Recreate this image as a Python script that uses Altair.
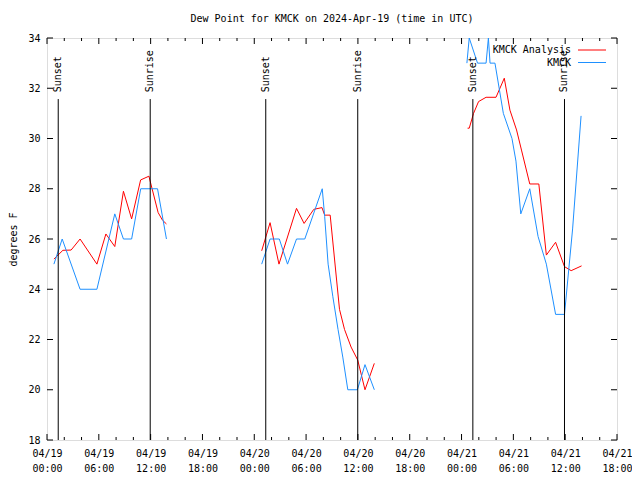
import altair as alt
import pandas as pd

TITLE = "Dew Point for KMCK on 2024-Apr-19 (time in UTC)"
SERIES = ["KMCK Analysis", "KMCK"]
COLORS = ["#ff0000", "#1e90ff"]
FONT = "DejaVu Sans Mono"

# hours since 2024-04-19 00:00 UTC
analysis_hours_1 = [0.80, 1.84, 2.79, 3.83, 5.78, 6.82, 7.85, 8.85, 9.80, 10.84, 11.80, 12.87, 13.37, 13.83]
analysis_dew_1 = [25.2, 25.55, 25.56, 26.0, 25.0, 26.2, 25.7, 27.9, 26.8, 28.35, 28.5, 27.05, 26.75, 26.6]
analysis_hours_2 = [24.86, 25.83, 26.86, 28.89, 29.77, 30.89, 31.84, 32.15, 32.79, 33.87, 34.45, 35.21, 35.98, 36.82, 37.90]
analysis_dew_2 = [25.53, 26.65, 25.0, 27.22, 26.62, 27.18, 27.25, 26.95, 26.95, 23.2, 22.4, 21.7, 21.18, 20.0, 21.05]
analysis_hours_3 = [48.70, 48.89, 49.39, 49.97, 50.84, 51.99, 52.95, 53.60, 54.37, 54.94, 55.90, 56.95, 57.82, 58.89, 59.92, 60.69, 61.90]
analysis_dew_3 = [30.41, 30.41, 31.0, 31.47, 31.64, 31.64, 32.4, 31.13, 30.34, 29.54, 28.19, 28.19, 25.36, 25.87, 24.9, 24.74, 24.93]

obs_hours_1 = [0.80, 1.76, 3.83, 5.78, 7.85, 8.85, 9.80, 10.85, 12.80, 13.83]
obs_dew_1 = [25, 26, 24, 24, 27, 26, 26, 28, 28, 26]
obs_hours_2 = [24.86, 25.83, 26.90, 27.85, 28.89, 29.85, 31.87, 32.15, 32.55, 33.10, 33.70, 34.25, 34.83, 35.94, 36.82, 37.90]
obs_dew_2 = [25, 26, 26, 25, 26, 26, 28, 26.9, 25.0, 23.7, 22.4, 21.3, 20, 20, 21, 20]
obs_hours_3 = [48.62, 48.89, 49.85, 50.84, 51.11, 51.30, 51.87, 52.84, 53.84, 54.30, 54.86, 55.90, 56.86, 57.82, 58.89, 59.92, 60.86, 61.84]
obs_dew_3 = [33, 34, 33, 33, 34, 33, 33, 31, 30, 29.1, 27, 28, 26.1, 25, 23, 23, 26.4, 30.9]

event_hours = [1.30, 11.95, 25.33, 35.98, 49.31, 59.92]
event_names = ["Sunset", "Sunrise", "Sunset", "Sunrise", "Sunset", "Sunrise"]

x_major = list(range(0, 67, 6))
x_minor = [h for h in range(0, 67, 2) if h % 6]
y_ticks = list(range(18, 35, 2))


def frame(series, segs):
    rows = []
    for i, (hs, vs) in enumerate(segs):
        for h, v in zip(hs, vs):
            rows.append({"series": series, "segment": i, "hour": h, "dew": v})
    return pd.DataFrame(rows)


ana_df = frame(SERIES[0], [(analysis_hours_1, analysis_dew_1), (analysis_hours_2, analysis_dew_2), (analysis_hours_3, analysis_dew_3)])
obs_df = frame(SERIES[1], [(obs_hours_1, obs_dew_1), (obs_hours_2, obs_dew_2), (obs_hours_3, obs_dew_3)])
ev_df = pd.DataFrame({"hour": event_hours, "name": event_names})

W, H = 570, 402
xs = alt.Scale(domain=[0, 66], nice=False, zero=False)
ys = alt.Scale(domain=[18, 34], nice=False, zero=False)

x_axis = alt.Axis(
    values=x_major, ticks=False, domain=False, grid=False, title=None,
    labelExpr="['04/' + (19 + floor(datum.value / 24)), (datum.value % 24 < 10 ? '0' : '') + (datum.value % 24) + ':00']",
    labelFont=FONT, labelFontSize=10, labelColor="black", labelPadding=8,
    labelFlush=False, labelOverlap=False, labelBaseline="top", labelLineHeight=15, tickSize=0,
)
y_axis = alt.Axis(
    values=y_ticks, ticks=False, domain=False, grid=False, title="degrees F",
    labelFont=FONT, labelFontSize=10, labelColor="black", labelPadding=7, tickSize=0,
    titleFont=FONT, titleFontSize=10, titleFontWeight="normal", titleColor="black",
    titleX=-34, titleY=201, titleAngle=270, titleAlign="center", titleBaseline="middle",
)

def line_layer(df, color):
    return alt.Chart(df).mark_line(strokeWidth=1, clip=True, color=color).encode(
        x=alt.X("hour:Q", scale=xs, axis=x_axis),
        y=alt.Y("dew:Q", scale=ys, axis=y_axis),
        detail="segment:N",
        order="hour:Q",
    )

ana_line = line_layer(ana_df, COLORS[0])
obs_line = line_layer(obs_df, COLORS[1])

ev_rules = alt.Chart(ev_df).mark_rule(color="black", strokeWidth=1).encode(
    x=alt.X("hour:Q", scale=xs), y=alt.datum(18), y2=alt.datum(31.57)
)
ev_text = alt.Chart(ev_df).mark_text(
    angle=270, align="left", baseline="middle", font=FONT, fontSize=10, color="black"
).encode(x=alt.X("hour:Q", scale=xs), y=alt.datum(31.84), text="name:N")

xmaj = pd.DataFrame({"hour": x_major})
xmin = pd.DataFrame({"hour": x_minor})
ytk = pd.DataFrame({"dew": y_ticks})

tick_layers = []
for df, ln in [(xmaj, 6), (xmin, 3)]:
    tick_layers.append(alt.Chart(df).mark_rule(color="black").encode(
        x=alt.X("hour:Q", scale=xs), y=alt.value(H), y2=alt.value(H - ln)))
    tick_layers.append(alt.Chart(df).mark_rule(color="black").encode(
        x=alt.X("hour:Q", scale=xs), y=alt.value(0), y2=alt.value(ln)))
tick_layers.append(alt.Chart(ytk).mark_rule(color="black").encode(
    y=alt.Y("dew:Q", scale=ys), x=alt.value(0), x2=alt.value(6)))
tick_layers.append(alt.Chart(ytk).mark_rule(color="black").encode(
    y=alt.Y("dew:Q", scale=ys), x=alt.value(W), x2=alt.value(W - 6)))

legend_layers = []
leg_df = pd.DataFrame({"series": SERIES})
for i, (name, col) in enumerate(zip(SERIES, COLORS)):
    yy = 12 + i * 12.5
    sub = leg_df[leg_df["series"] == name]
    legend_layers.append(alt.Chart(sub).mark_text(
        align="right", baseline="middle", font=FONT, fontSize=10, color="black"
    ).encode(x=alt.value(W - 46), y=alt.value(yy), text="series:N"))
    legend_layers.append(alt.Chart(sub).mark_rule(color=col, strokeWidth=1).encode(
        x=alt.value(W - 39), x2=alt.value(W - 11), y=alt.value(yy)))

chart = alt.layer(
    ana_line, obs_line, ev_rules, ev_text, *tick_layers, *legend_layers
).properties(
    width=W, height=H,
    autosize=alt.AutoSizeParams(type="none"),
    padding={"left": 39, "top": 30, "right": 15, "bottom": 32},
    title=alt.TitleParams(TITLE, font=FONT, fontSize=10, fontWeight="normal", color="black", offset=9, anchor="middle"),
).configure_view(stroke="black", strokeWidth=1).configure(background="white")

chart.save("out.html", embed_options={"renderer": "svg", "actions": False})
